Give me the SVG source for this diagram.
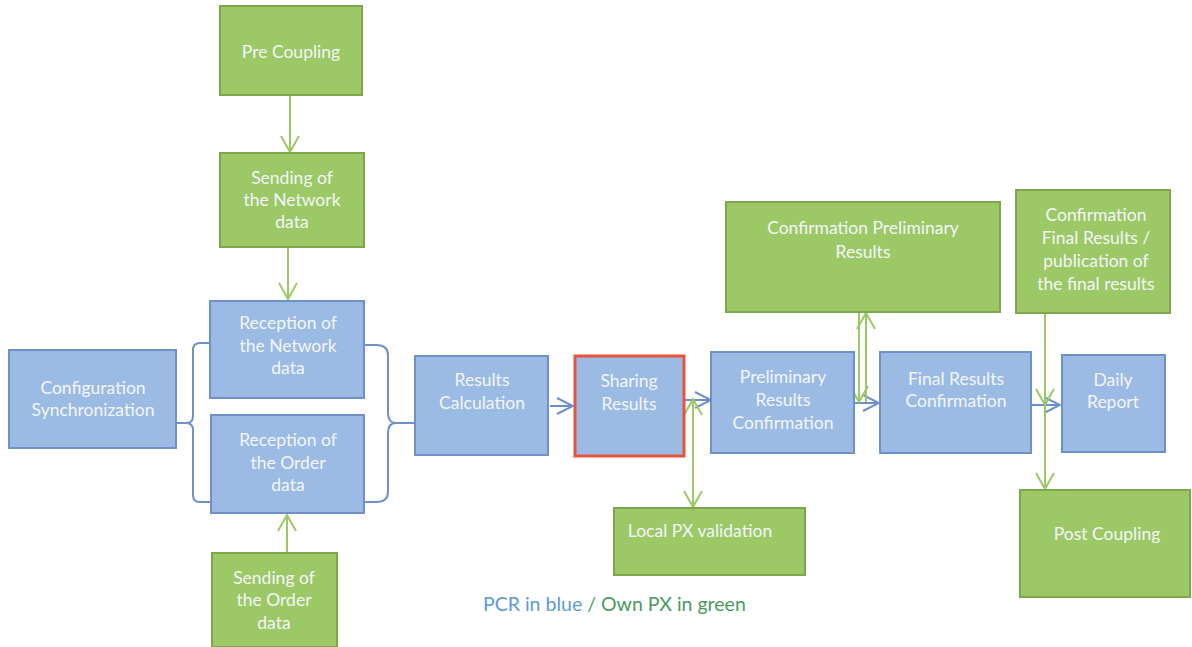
<svg xmlns="http://www.w3.org/2000/svg" width="1192" height="647" viewBox="0 0 1192 647">
<style>
.g{fill:#9cc866;stroke:#7ea64c;stroke-width:2}
.b{fill:#9bbbe4;stroke:#6f90c8;stroke-width:2}
.t{font-family:Lato,"Open Sans",sans-serif;font-size:17.5px;fill:#f3f6f9;text-anchor:middle}
.cg{fill:none;stroke:#9cc866;stroke-width:2}
.cb{fill:none;stroke:#6d8fcc;stroke-width:2}
.br{fill:none;stroke:#6f90c8;stroke-width:2}
</style>
<defs>
<marker id="ag" viewBox="0 0 22 22" refX="20" refY="11" markerWidth="22" markerHeight="22" markerUnits="userSpaceOnUse" orient="auto-start-reverse">
<path d="M4,2 L20,11 L4,20" fill="none" stroke="#9cc866" stroke-width="2"/>
</marker>
<marker id="ab" viewBox="0 0 22 22" refX="20" refY="11" markerWidth="22" markerHeight="22" markerUnits="userSpaceOnUse" orient="auto">
<path d="M4,3 L20,11 L4,19" fill="none" stroke="#6d8fcc" stroke-width="2"/>
</marker>
</defs>
<rect width="1192" height="647" fill="#ffffff"/>

<g id="connectors">
<line class="cg" x1="290" y1="96" x2="290" y2="152" marker-end="url(#ag)"/>
<line class="cg" x1="288" y1="248" x2="288" y2="299" marker-end="url(#ag)"/>
<line class="cg" x1="287" y1="552" x2="287" y2="515" marker-end="url(#ag)"/>
<path class="br" d="M176,423 H186 Q193,423 193,416 V350 Q193,343 200,343 H210 M193,430 V495 Q193,502 200,502 H210 M186,423 Q193,423 193,430"/>
<path class="br" d="M364,345 H376 Q388,345 388,355 V413 Q388,423 396,423 H414 M388,433 V492 Q388,502 376,502 H364 M396,423 Q388,423 388,433"/>
<line class="cb" x1="550" y1="406" x2="573" y2="406" marker-end="url(#ab)"/>
<line class="cb" x1="685" y1="400" x2="711" y2="400" marker-end="url(#ab)"/>
<line class="cg" x1="693" y1="399" x2="693" y2="507" marker-start="url(#ag)" marker-end="url(#ag)"/>
<line class="cb" x1="855" y1="403" x2="879" y2="403" marker-end="url(#ab)"/>
<line class="cg" x1="866" y1="402" x2="866" y2="313" marker-end="url(#ag)"/>
<line class="cg" x1="859" y1="313" x2="859" y2="402" marker-end="url(#ag)"/>
<line class="cb" x1="1032" y1="405" x2="1060" y2="405" marker-end="url(#ab)"/>
<line class="cg" x1="1045" y1="314" x2="1045" y2="405" marker-end="url(#ag)"/>
<line class="cg" x1="1045" y1="405" x2="1045" y2="489" marker-end="url(#ag)"/>
</g>

<g id="pre-coupling"><rect class="g" x="220" y="6" width="142" height="89"/><text class="t" x="291" y="58">Pre Coupling</text></g>
<g id="sending-network"><rect class="g" x="220" y="153" width="144" height="94"/><text class="t" x="292" y="184">Sending of</text><text class="t" x="292" y="206">the Network</text><text class="t" x="292" y="228">data</text></g>
<g id="reception-network"><rect class="b" x="210" y="301" width="154" height="97"/><text class="t" x="288" y="329">Reception of</text><text class="t" x="288" y="352">the Network</text><text class="t" x="288" y="374">data</text></g>
<g id="reception-order"><rect class="b" x="211" y="415" width="153" height="98"/><text class="t" x="288" y="446">Reception of</text><text class="t" x="288" y="469">the Order</text><text class="t" x="288" y="491">data</text></g>
<g id="config-sync"><rect class="b" x="9" y="350" width="167" height="98"/><text class="t" x="93" y="394">Configuration</text><text class="t" x="93" y="416">Synchronization</text></g>
<g id="results-calc"><rect class="b" x="415" y="356" width="133" height="99"/><text class="t" x="482" y="386">Results</text><text class="t" x="482" y="409">Calculation</text></g>
<g id="sharing-results"><rect x="575" y="356" width="109" height="100" fill="#9bbbe4" stroke="#e8533c" stroke-width="3"/><text class="t" x="629" y="387">Sharing</text><text class="t" x="629" y="410">Results</text></g>
<g id="preliminary"><rect class="b" x="711" y="352" width="143" height="101"/><text class="t" x="783" y="383">Preliminary</text><text class="t" x="783" y="406">Results</text><text class="t" x="783" y="429">Confirmation</text></g>
<g id="final-results"><rect class="b" x="880" y="352" width="151" height="101"/><text class="t" x="956" y="385">Final Results</text><text class="t" x="956" y="407">Confirmation</text></g>
<g id="daily-report"><rect class="b" x="1062" y="355" width="103" height="97"/><text class="t" x="1113" y="386">Daily</text><text class="t" x="1113" y="408">Report</text></g>
<g id="conf-prelim"><rect class="g" x="726" y="202" width="274" height="110"/><text class="t" x="863" y="234">Confirmation Preliminary</text><text class="t" x="863" y="258">Results</text></g>
<g id="conf-final"><rect class="g" x="1016" y="190" width="154" height="123"/><text class="t" x="1096" y="221">Confirmation</text><text class="t" x="1096" y="244">Final Results /</text><text class="t" x="1096" y="267">publication of</text><text class="t" x="1096" y="290">the final results</text></g>
<g id="local-px"><rect class="g" x="614" y="508" width="191" height="67"/><text class="t" x="700" y="537">Local PX validation</text></g>
<g id="post-coupling"><rect class="g" x="1020" y="490" width="170" height="107"/><text class="t" x="1107" y="540">Post Coupling</text></g>
<g id="sending-order"><rect class="g" x="212" y="553" width="125" height="94"/><text class="t" x="274" y="584">Sending of</text><text class="t" x="274" y="606">the Order</text><text class="t" x="274" y="629">data</text></g>
<g id="legend"><text x="483" y="611" font-family="Lato,'Open Sans',sans-serif" font-size="19.5"><tspan fill="#5b9bd5">PCR in blue</tspan><tspan fill="#4a9a5e"> / Own PX in green</tspan></text></g>
</svg>
